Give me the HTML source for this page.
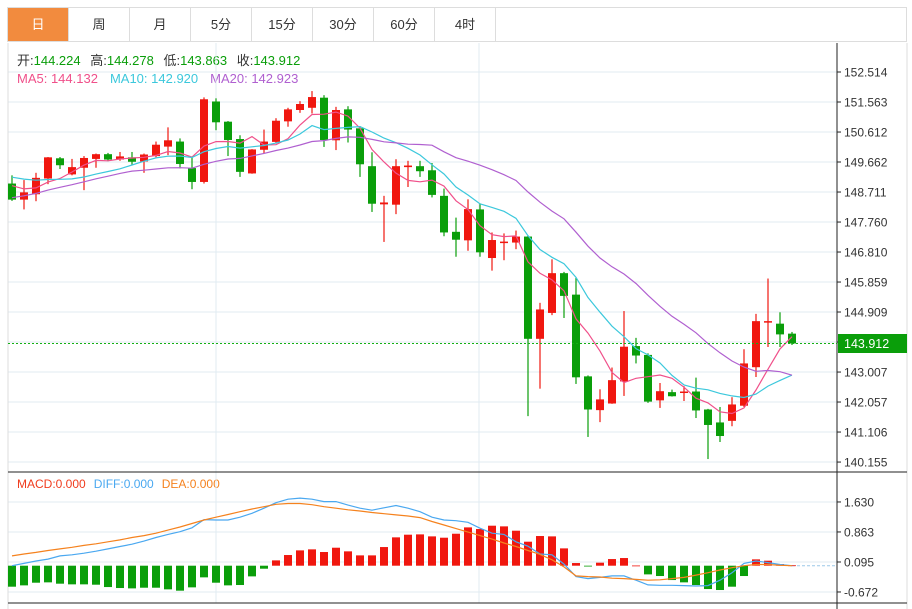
<!DOCTYPE html>
<html><head><meta charset="utf-8">
<style>
body{margin:0;background:#fff;width:912px;height:609px;overflow:hidden;font-family:"Liberation Sans","Noto Sans CJK SC",sans-serif;}
#tabs{position:absolute;left:7px;top:7px;width:900px;height:35px;border:1px solid #ddd;box-sizing:border-box;display:flex;}
.tab{width:61px;height:100%;border-right:1px solid #ddd;box-sizing:border-box;text-align:center;line-height:34px;font-size:13px;color:#333;}
.tab.on{background:#f28b3e;color:#fff;}
svg{position:absolute;left:0;top:0;}
</style></head><body>
<div id="tabs">
<div class="tab on">日</div>
<div class="tab">周</div>
<div class="tab">月</div>
<div class="tab">5分</div>
<div class="tab">15分</div>
<div class="tab">30分</div>
<div class="tab">60分</div>
<div class="tab">4时</div>
</div>
<svg id="chart" width="912" height="609" font-family="Liberation Sans, Noto Sans CJK SC, sans-serif">
<text x="17" y="65" font-size="13"><tspan fill="#333">开:</tspan><tspan fill="#0a9e0a">144.224 </tspan><tspan fill="#333" dx="6">高:</tspan><tspan fill="#0a9e0a">144.278 </tspan><tspan fill="#333" dx="6">低:</tspan><tspan fill="#0a9e0a">143.863 </tspan><tspan fill="#333" dx="6">收:</tspan><tspan fill="#0a9e0a">143.912</tspan></text>
<text x="17" y="83" font-size="13"><tspan fill="#f0508a">MA5: 144.132</tspan><tspan fill="#3cc8dc" dx="12">MA10: 142.920</tspan><tspan fill="#b060d0" dx="12">MA20: 142.923</tspan></text>
<text x="17" y="488" font-size="12"><tspan fill="#f03c1e">MACD:0.000</tspan><tspan fill="#4aa8f0" dx="8">DIFF:0.000</tspan><tspan fill="#f5821e" dx="8">DEA:0.000</tspan></text>
</svg>
<script>
const opens=[148.98,148.47,148.64,149.14,149.78,149.27,149.48,149.76,149.91,149.74,149.81,149.68,149.85,150.15,150.31,149.47,149.03,151.58,150.94,150.39,149.30,150.05,150.30,150.95,151.31,151.38,151.70,150.35,151.33,150.73,149.53,148.32,148.31,149.50,149.53,149.40,148.59,147.45,147.18,148.16,146.62,147.10,147.11,147.30,144.06,144.88,146.14,145.46,142.87,141.80,142.01,142.71,143.83,143.55,142.11,142.37,142.36,142.39,141.82,141.41,141.46,141.94,143.16,144.58,144.54,144.224];
const highs=[149.24,149.09,149.32,149.82,149.82,149.76,149.85,149.93,149.95,149.98,149.98,149.93,150.31,150.76,150.41,149.81,151.71,151.68,150.96,150.51,150.07,150.69,151.05,151.38,151.59,151.91,151.78,151.41,151.43,150.80,149.97,148.59,149.75,149.70,149.70,149.63,148.82,147.90,148.48,148.35,147.43,147.40,147.49,147.32,145.20,146.58,146.18,145.99,142.90,142.46,143.15,144.94,144.09,143.60,142.66,142.45,142.56,142.83,141.84,141.90,142.21,143.73,144.85,145.97,144.90,144.278];
const lows=[148.43,148.16,148.42,148.96,149.44,149.24,148.77,149.48,149.69,149.70,149.58,149.32,149.81,149.88,149.46,148.80,148.98,150.67,149.85,149.19,149.29,149.93,150.25,150.78,151.22,151.20,150.14,150.04,150.28,149.19,148.08,147.13,148.01,148.87,149.19,148.54,147.31,146.66,146.85,146.66,146.22,146.55,146.90,141.61,142.48,144.81,144.72,142.63,140.95,141.42,142.00,142.25,143.28,142.03,141.87,142.23,142.09,141.55,140.25,140.79,141.29,141.90,142.85,143.80,143.80,143.863];
const closes=[148.47,148.70,149.16,149.81,149.56,149.50,149.79,149.91,149.74,149.84,149.67,149.90,150.21,150.35,149.60,149.03,151.65,150.92,150.36,149.35,150.06,150.31,150.97,151.33,151.50,151.72,150.36,151.31,150.69,149.59,148.34,148.38,149.53,149.55,149.37,148.62,147.43,147.20,148.17,146.80,147.19,147.14,147.30,144.06,144.99,146.14,145.42,142.84,141.82,142.14,142.75,143.81,143.53,142.07,142.40,142.24,142.39,141.79,141.33,140.98,141.98,143.28,144.62,144.62,144.20,143.912];
const priorCloses=[147.5,147.6,147.7,147.8,147.9,147.9,148.0,148.1,148.1,148.2,149.3,149.5,149.6,149.5,149.35,149.2,149.0,148.9,148.98];
const macdHist=[-0.537,-0.503,-0.435,-0.426,-0.46,-0.477,-0.477,-0.486,-0.546,-0.571,-0.58,-0.563,-0.563,-0.605,-0.639,-0.554,-0.298,-0.435,-0.503,-0.494,-0.273,-0.077,0.136,0.273,0.392,0.418,0.35,0.46,0.367,0.264,0.264,0.477,0.725,0.793,0.801,0.75,0.716,0.818,0.98,0.938,1.023,1.006,0.895,0.614,0.759,0.75,0.443,0.068,-0.02,0.077,0.17,0.196,0.005,-0.222,-0.264,-0.367,-0.426,-0.494,-0.597,-0.622,-0.537,-0.264,0.162,0.128,0.043,0.01];
const diffVals=[0.0,0.06,0.12,0.17,0.25,0.28,0.32,0.37,0.43,0.49,0.55,0.63,0.72,0.80,0.87,0.97,1.18,1.17,1.17,1.24,1.34,1.47,1.61,1.70,1.73,1.70,1.64,1.64,1.55,1.47,1.42,1.48,1.54,1.47,1.38,1.24,1.17,1.15,1.11,0.96,0.83,0.80,0.61,0.50,0.30,0.28,0.04,-0.28,-0.33,-0.30,-0.26,-0.26,-0.37,-0.49,-0.50,-0.50,-0.51,-0.52,-0.51,-0.37,-0.18,0.06,0.12,0.08,0.03,0.0];
const deaVals=[0.25,0.30,0.34,0.39,0.43,0.47,0.52,0.56,0.61,0.66,0.72,0.77,0.83,0.91,0.99,1.08,1.17,1.24,1.31,1.38,1.45,1.51,1.57,1.59,1.59,1.56,1.51,1.47,1.43,1.40,1.36,1.33,1.30,1.27,1.23,1.13,1.04,0.95,0.86,0.77,0.68,0.58,0.49,0.39,0.29,0.15,-0.03,-0.26,-0.28,-0.29,-0.32,-0.33,-0.35,-0.37,-0.36,-0.33,-0.30,-0.24,-0.18,-0.11,-0.05,0.0,0.03,0.03,0.01,0.0];
const priceTicks=["152.514","151.563","150.612","149.662","148.711","147.760","146.810","145.859","144.909","143.958","143.007","142.057","141.106","140.155"];
const macdTicks=["1.630","0.863","0.095","-0.672"];
const lastPrice=143.912;

const NS="http://www.w3.org/2000/svg";
const svg=document.getElementById('chart');
function mk(tag,attrs,parent){const e=document.createElementNS(NS,tag);for(const k in attrs)e.setAttribute(k,attrs[k]);(parent||svg).appendChild(e);return e;}
const xAt=i=>12+12*i;
const yP=p=>72+(152.514-p)*31.56;
const yM=v=>565.7-v*39.1;
const RED="#f0170f",GRN="#0a9e0a";

const grid=mk('g',{});


priceTicks.forEach(t=>{const y=yP(parseFloat(t));mk('line',{x1:8,x2:837,y1:y,y2:y,stroke:"#e1ebf2"},grid);});
macdTicks.forEach(t=>{const y=yM(parseFloat(t));mk('line',{x1:8,x2:837,y1:y,y2:y,stroke:"#e1ebf2"},grid);});
[216,479].forEach(x=>mk('line',{x1:x,x2:x,y1:43,y2:603,stroke:"#e1ebf2"},grid));
mk('line',{x1:8,x2:8,y1:43,y2:609,stroke:"#ddd"});
mk('line',{x1:907,x2:907,y1:43,y2:609,stroke:"#ddd"});
mk('line',{x1:8,x2:907,y1:472,y2:472,stroke:"#222"});
mk('line',{x1:8,x2:907,y1:603,y2:603,stroke:"#222"});
const axis=mk('line',{x1:837,x2:837,y1:43,y2:609,stroke:"#222"});


priceTicks.forEach(t=>{const y=yP(parseFloat(t));mk('line',{x1:837,x2:841,y1:y,y2:y,stroke:"#222"});
 const tx=mk('text',{x:844,y:y+4.5,"font-size":12,fill:"#333"});tx.textContent=t;
 
 });
macdTicks.forEach(t=>{const y=yM(parseFloat(t));mk('line',{x1:837,x2:841,y1:y,y2:y,stroke:"#222"});
 const tx=mk('text',{x:844,y:y+4.5,"font-size":12,fill:"#333"});tx.textContent=t;
 
 });

opens.forEach((o,i)=>{
 const c=closes[i],up=c>=o,col=up?RED:GRN,x=xAt(i);
 const g=mk('g',{});
 
 
 mk('line',{x1:x,x2:x,y1:yP(highs[i]),y2:yP(lows[i]),stroke:col,"stroke-width":1.2},g);
 const t=yP(Math.max(o,c)),b=yP(Math.min(o,c));
 mk('rect',{x:x-4,y:t,width:8,height:Math.max(1.5,b-t),fill:col},g);
});
const all=priorCloses.concat(closes);
function ma(n){return closes.map((_,i)=>{const e=i+priorCloses.length;let s=0;for(let k=e-n+1;k<=e;k++)s+=all[k];return s/n;});}
[[5,"#f0508a","ma5-line"],[10,"#3cc8dc","ma10-line"],[20,"#b060d0","ma20-line"]].forEach(([n,col,name])=>{
 const v=ma(n);const pl=mk('polyline',{points:v.map((p,i)=>xAt(i)+","+yP(p).toFixed(1)).join(" "),fill:"none",stroke:col,"stroke-width":1.2});
 
 
});
const ly=Math.round(yP(lastPrice))+0.5;
const ll=mk('line',{x1:8,x2:837,y1:ly,y2:ly,stroke:"#13b013","stroke-dasharray":"2,2"});


const lb=mk('rect',{x:838,y:ly-9.5,width:69,height:19,fill:GRN});


const lt=mk('text',{x:844,y:ly+4.5,"font-size":12.5,fill:"#fff"});lt.textContent=lastPrice.toFixed(3);


const z=yM(0);
mk('line',{x1:xAt(65),x2:837,y1:z,y2:z,stroke:"#9cc8e8","stroke-dasharray":"3,2"});
macdHist.forEach((v,i)=>{const y=yM(v);
 const r=mk('rect',{x:xAt(i)-4,y:Math.min(y,z),width:8,height:Math.max(0.8,Math.abs(y-z)),fill:v>=0?RED:GRN});
 
 });
const dl=mk('polyline',{points:diffVals.map((v,i)=>xAt(i)+","+yM(v).toFixed(1)).join(" "),fill:"none",stroke:"#4aa8f0","stroke-width":1.2});


const el=mk('polyline',{points:deaVals.map((v,i)=>xAt(i)+","+yM(v).toFixed(1)).join(" "),fill:"none",stroke:"#f5821e","stroke-width":1.2});


</script>
</body></html>
